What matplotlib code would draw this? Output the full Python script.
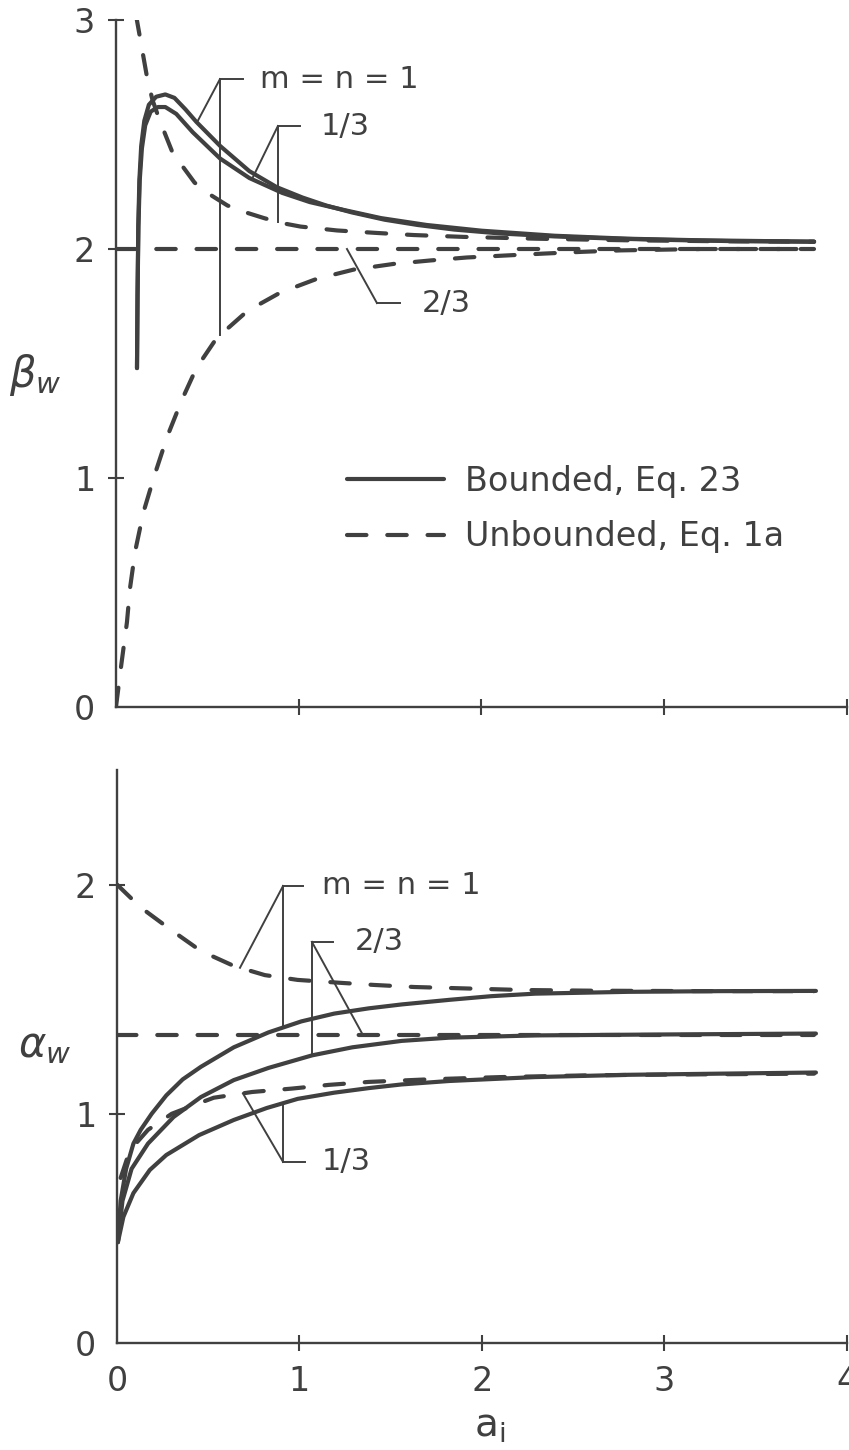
#!/usr/bin/env python3
"""
Wall coefficients beta_w and alpha_w against a_i: bounded (Eq. 23)
versus unbounded (Eq. 1a) solutions for m = n = 1, 2/3 and 1/3.
"""

import numpy as np
import matplotlib
matplotlib.use("Agg")
import matplotlib.pyplot as plt

INK = "#404040"

# ---------------- upper panel: beta_w ----------------
# bounded, m = n = 1
BETA_B1_X = [0.115, 0.118, 0.122, 0.128, 0.138, 0.155, 0.18, 0.22, 0.27, 0.32, 0.38, 0.44,
             0.57, 0.73, 0.88, 1.02, 1.15, 1.29, 1.47, 1.65, 1.85, 2.1, 2.4, 2.7, 3.0, 3.4, 3.82]
BETA_B1_Y = [1.48, 1.80, 2.10, 2.30, 2.45, 2.56, 2.63, 2.665, 2.675, 2.66, 2.61, 2.555,
             2.45, 2.34, 2.27, 2.225, 2.19, 2.16, 2.128, 2.105, 2.085, 2.068, 2.055, 2.046, 2.04, 2.034, 2.032]
# bounded, m = n = 1/3
BETA_B13_X = [0.115, 0.118, 0.123, 0.13, 0.142, 0.16, 0.19, 0.23, 0.27, 0.33, 0.42, 0.57,
              0.73, 0.91, 1.06, 1.25, 1.45, 1.7, 2.0, 2.4, 2.8, 3.2, 3.82]
BETA_B13_Y = [1.48, 1.80, 2.10, 2.30, 2.44, 2.54, 2.60, 2.62, 2.62, 2.59, 2.51, 2.395,
              2.31, 2.245, 2.205, 2.17, 2.135, 2.105, 2.08, 2.058, 2.045, 2.038, 2.032]
# unbounded, m = n = 1
BETA_U1_X = [0.0, 0.03, 0.06, 0.077, 0.105, 0.15, 0.21, 0.28, 0.36, 0.44, 0.55, 0.72, 0.90,
             1.10, 1.30, 1.52, 1.72, 1.92, 2.14, 2.34, 2.56, 2.76, 3.2, 3.82]
BETA_U1_Y = [0.0, 0.19, 0.37, 0.52, 0.68, 0.85, 1.01, 1.18, 1.34, 1.48, 1.61, 1.73, 1.81,
             1.87, 1.91, 1.935, 1.95, 1.963, 1.972, 1.98, 1.988, 1.994, 2.0, 2.0]
# unbounded, m = n = 2/3
BETA_U23_X = [0.0, 3.82]
BETA_U23_Y = [2.0, 2.0]
# unbounded, m = n = 1/3
BETA_U13_X = [0.11, 0.13, 0.15, 0.17, 0.20, 0.24, 0.31, 0.43, 0.52, 0.61, 0.71, 0.81, 0.91,
              1.01, 1.21, 1.43, 1.63, 1.9, 2.3, 2.8, 3.3, 3.82]
BETA_U13_Y = [3.02, 2.93, 2.84, 2.75, 2.65, 2.56, 2.42, 2.29, 2.235, 2.19, 2.16, 2.135, 2.113,
              2.098, 2.081, 2.07, 2.061, 2.053, 2.045, 2.038, 2.034, 2.032]

# ---------------- lower panel: alpha_w ----------------
ALPHA_B1_X = [0.005, 0.02, 0.05, 0.09, 0.13, 0.19, 0.27, 0.36, 0.46, 0.64, 0.83, 1.01,
              1.19, 1.38, 1.56, 1.82, 2.05, 2.29, 2.8, 3.3, 3.83]
ALPHA_B1_Y = [0.44, 0.62, 0.76, 0.87, 0.93, 1.0, 1.08, 1.15, 1.205, 1.29, 1.355, 1.403,
              1.437, 1.46, 1.477, 1.497, 1.513, 1.524, 1.532, 1.535, 1.536]
ALPHA_B23_X = [0.005, 0.03, 0.08, 0.17, 0.31, 0.46, 0.64, 0.83, 1.07, 1.29, 1.56, 1.82,
               2.3, 3.0, 3.83]
ALPHA_B23_Y = [0.44, 0.62, 0.76, 0.87, 0.986, 1.073, 1.147, 1.20, 1.255, 1.29, 1.318, 1.332,
               1.342, 1.346, 1.35]
ALPHA_B13_X = [0.005, 0.035, 0.09, 0.18, 0.27, 0.45, 0.64, 0.82, 0.99, 1.19, 1.38, 1.56,
               1.82, 2.29, 2.8, 3.3, 3.83]
ALPHA_B13_Y = [0.44, 0.55, 0.654, 0.755, 0.82, 0.907, 0.973, 1.025, 1.065, 1.092, 1.112, 1.128,
               1.143, 1.16, 1.17, 1.175, 1.18]
ALPHA_U1_X = [0.0, 0.13, 0.30, 0.46, 0.64, 0.81, 0.99, 1.23, 1.41, 1.63, 1.9, 2.22, 2.6, 3.2, 3.82]
ALPHA_U1_Y = [2.0, 1.90, 1.80, 1.71, 1.645, 1.605, 1.584, 1.571, 1.562, 1.553, 1.547, 1.54,
              1.537, 1.535, 1.535]
ALPHA_U23_X = [0.0, 3.82]
ALPHA_U23_Y = [1.343, 1.343]
ALPHA_U13_X = [0.02, 0.07, 0.17, 0.30, 0.43, 0.53, 0.74, 0.96, 1.16, 1.38, 1.7, 2.1, 2.6, 3.2, 3.82]
ALPHA_U13_Y = [0.72, 0.84, 0.93, 1.0, 1.04, 1.07, 1.095, 1.11, 1.126, 1.139, 1.15, 1.16,
               1.168, 1.172, 1.175]

X_TICKS = [0, 1, 2, 3, 4]
BETA_TICKS = [0, 1, 2, 3]
ALPHA_TICKS = [0, 1, 2]

SOLID = dict(color=INK, lw=3.0, solid_capstyle="round", solid_joinstyle="round")
DASHED = dict(color=INK, lw=3.0, linestyle=(0, (14, 15)), dash_capstyle="round")
LEADER = dict(color=INK, lw=1.4)


def style_axes(ax, yticks, ymax, xlabels):
    """Bare L-shaped axes with ticks crossing the spines."""
    for side in ("top", "right"):
        ax.spines[side].set_visible(False)
    for side in ("left", "bottom"):
        ax.spines[side].set_linewidth(1.7)
        ax.spines[side].set_color(INK)
    ax.set_xlim(0, 4)
    ax.set_ylim(0, ymax)
    ax.set_xticks(X_TICKS)
    ax.set_yticks(yticks)
    ax.set_xticklabels([str(t) for t in X_TICKS] if xlabels else [])
    ax.set_yticklabels([str(t) for t in yticks])
    ax.tick_params(direction="inout", length=12, width=1.5, color=INK,
                   labelsize=24, labelcolor=INK)
    ax.tick_params(axis="y", pad=9)
    ax.tick_params(axis="x", pad=10)
    ax.xaxis.get_major_ticks()[0].tick1line.set_visible(False)
    ax.yaxis.get_major_ticks()[0].tick1line.set_visible(False)


def leader(ax, elbow, stub_end, targets, text, text_x, text_y=None, fs=22):
    """Draw a labelled leader: short stub plus branches to points on curves."""
    ex, ey = elbow
    ax.plot([ex, stub_end], [ey, ey], **LEADER)
    for cx, curve_x, curve_y in targets:
        ax.plot([ex, cx], [ey, np.interp(cx, curve_x, curve_y)], **LEADER)
    ax.text(text_x, ey if text_y is None else text_y, text, fontsize=fs,
            color=INK, ha="left", va="center")


def main():
    plt.rcParams["font.family"] = ["DejaVu Sans"]
    plt.rcParams["mathtext.fontset"] = "dejavusans"
    plt.rcParams["lines.scale_dashes"] = False

    fig = plt.figure(figsize=(8.49, 14.5), dpi=100)
    ax_b = fig.add_axes([0.1366, 0.5124, 0.8610, 0.4738])
    ax_a = fig.add_axes([0.1378, 0.0738, 0.8598, 0.3952])

    # beta_w
    solid, = ax_b.plot(BETA_B1_X, BETA_B1_Y, **SOLID)
    ax_b.plot(BETA_B13_X, BETA_B13_Y, **SOLID)
    dashed, = ax_b.plot(BETA_U1_X, BETA_U1_Y, **DASHED)
    ax_b.plot(BETA_U23_X, BETA_U23_Y, **DASHED)
    ax_b.plot(BETA_U13_X, BETA_U13_Y, **DASHED)
    style_axes(ax_b, BETA_TICKS, 3, xlabels=False)
    ax_b.set_ylabel(r"$\beta_w$", rotation=0, fontsize=30, color=INK, ha="center", va="center")
    ax_b.yaxis.set_label_coords(-0.111, 0.483)

    leader(ax_b, (0.569, 2.742), 0.695,
           [(0.443, BETA_B1_X, BETA_B1_Y), (0.569, BETA_U1_X, BETA_U1_Y)],
           "m = n = 1", 0.79)
    leader(ax_b, (0.886, 2.537), 1.007,
           [(0.744, BETA_B13_X, BETA_B13_Y), (0.886, BETA_U13_X, BETA_U13_Y)],
           "1/3", 1.12)
    leader(ax_b, (1.428, 1.764), 1.554,
           [(1.264, BETA_U23_X, BETA_U23_Y)],
           "2/3", 1.675)

    ax_b.legend([solid, dashed], ["Bounded, Eq. 23", "Unbounded, Eq. 1a"],
                loc="center left", bbox_to_anchor=(0.316, 0.288), frameon=False,
                fontsize=24, handlelength=2.9, handletextpad=0.65, labelspacing=0.68,
                borderpad=0, borderaxespad=0, labelcolor=INK)

    # alpha_w
    ax_a.plot(ALPHA_B1_X, ALPHA_B1_Y, **SOLID)
    ax_a.plot(ALPHA_B23_X, ALPHA_B23_Y, **SOLID)
    ax_a.plot(ALPHA_B13_X, ALPHA_B13_Y, **SOLID)
    ax_a.plot(ALPHA_U1_X, ALPHA_U1_Y, **DASHED)
    ax_a.plot(ALPHA_U23_X, ALPHA_U23_Y, **DASHED)
    ax_a.plot(ALPHA_U13_X, ALPHA_U13_Y, **DASHED)
    style_axes(ax_a, ALPHA_TICKS, 2.5, xlabels=True)
    ax_a.set_ylabel(r"$\alpha_w$", rotation=0, fontsize=30, color=INK, ha="center", va="center")
    ax_a.yaxis.set_label_coords(-0.099, 0.52)
    ax_a.set_xlabel(r"a$_\mathregular{i}$", fontsize=28, color=INK, va="center")
    ax_a.xaxis.set_label_coords(0.511, -0.145)

    leader(ax_a, (0.910, 1.994), 1.019,
           [(0.674, ALPHA_U1_X, ALPHA_U1_Y), (0.910, ALPHA_B1_X, ALPHA_B1_Y)],
           "m = n = 1", 1.123)
    leader(ax_a, (1.068, 1.75), 1.184,
           [(1.348, ALPHA_U23_X, ALPHA_U23_Y), (1.068, ALPHA_B23_X, ALPHA_B23_Y)],
           "2/3", 1.304)
    leader(ax_a, (0.910, 0.79), 1.03,
           [(0.690, ALPHA_U13_X, ALPHA_U13_Y), (0.910, ALPHA_B13_X, ALPHA_B13_Y)],
           "1/3", 1.123)

    fig.savefig("out.png", dpi=100, facecolor="white")
    plt.close(fig)


if __name__ == "__main__":
    main()
